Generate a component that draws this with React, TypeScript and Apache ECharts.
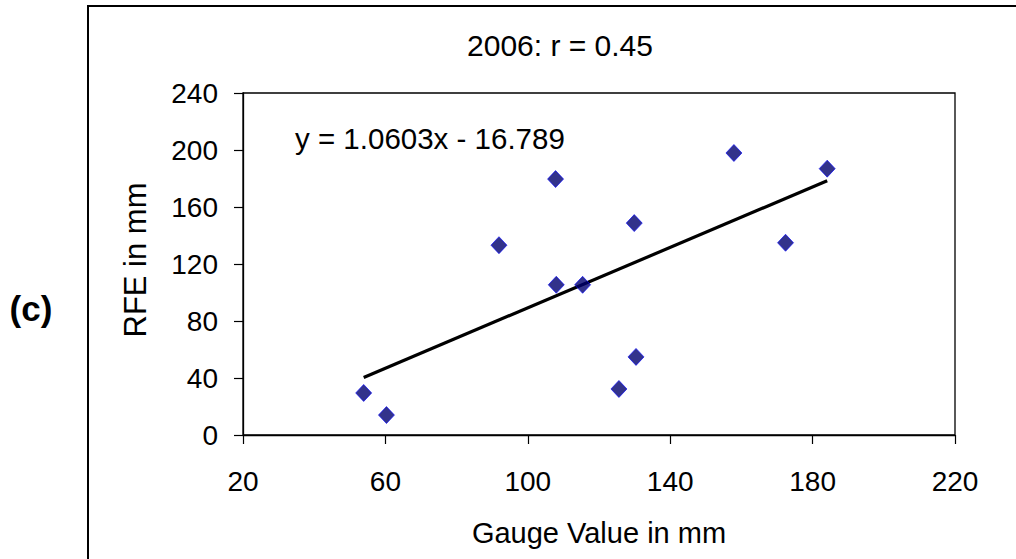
import React, { useEffect, useRef } from "react";
import * as echarts from "echarts";

const gaugeValues = [53.9, 60.3, 91.9, 107.8, 108.0, 115.4, 129.9, 125.6, 130.4, 157.9, 172.4, 184.1];
const rfeValues = [29.5, 14.0, 133.2, 179.6, 105.4, 105.4, 148.7, 32.3, 54.8, 197.9, 134.9, 186.9];
const trendX = [53.9, 184.1];
const trendY = [40.4, 178.4];
const xTicks = [20, 60, 100, 140, 180, 220];
const yTicks = [0, 40, 80, 120, 160, 200, 240];
const titleText = "2006: r = 0.45";
const equationText = "y = 1.0603x - 16.789";
const xName = "Gauge Value in mm";
const yName = "RFE in mm";
const panelLabel = "(c)";

const FONT = "'Liberation Sans', Arial, sans-serif";

export default function App() {
  const ref = useRef<HTMLDivElement>(null);
  useEffect(() => {
    if (!ref.current) return;
    const chart = echarts.init(ref.current, undefined, { renderer: "svg" });
    const points = gaugeValues.map((x, i) => [x, rfeValues[i]]);
    const trend = trendX.map((x, i) => [x, trendY[i]]);
    chart.setOption({
      animation: false,
      backgroundColor: "#ffffff",
      grid: {
        left: 243,
        right: 61,
        top: 93,
        bottom: 124,
        show: true,
        borderColor: "#000",
        borderWidth: 1.3,
        containLabel: false,
      },
      xAxis: {
        type: "value",
        min: xTicks[0],
        max: xTicks[xTicks.length - 1],
        interval: 40,
        axisLine: { show: true, onZero: false, lineStyle: { color: "#000", width: 1.3 } },
        axisTick: { show: true, inside: false, length: 9, lineStyle: { color: "#000", width: 1.2 } },
        axisLabel: { color: "#000", fontSize: 28, fontFamily: FONT, margin: 32 },
        splitLine: { show: false },
      },
      yAxis: {
        type: "value",
        min: yTicks[0],
        max: yTicks[yTicks.length - 1],
        interval: 40,
        axisLine: { show: true, onZero: false, lineStyle: { color: "#000", width: 1.3 } },
        axisTick: { show: true, inside: false, length: 9, lineStyle: { color: "#000", width: 1.2 } },
        axisLabel: { color: "#000", fontSize: 28, fontFamily: FONT, margin: 25 },
        splitLine: { show: false },
      },
      graphic: [
        {
          type: "rect",
          shape: { x: 88, y: 6, width: 1000, height: 600 },
          style: { fill: "none", stroke: "#000", lineWidth: 2 },
          silent: true,
        },
        {
          type: "text",
          x: 560,
          y: 45,
          style: { text: titleText, fill: "#000", font: `30px ${FONT}`, align: "center", verticalAlign: "middle" },
        },
        {
          type: "text",
          x: 295,
          y: 138,
          style: { text: equationText, fill: "#000", font: `29.5px ${FONT}`, align: "left", verticalAlign: "middle" },
        },
        {
          type: "text",
          x: 599,
          y: 533,
          style: { text: xName, fill: "#000", font: `29px ${FONT}`, align: "center", verticalAlign: "middle" },
        },
        {
          type: "text",
          x: 135,
          y: 260,
          rotation: Math.PI / 2,
          style: { text: yName, fill: "#000", font: `31px ${FONT}`, align: "center", verticalAlign: "middle" },
        },
        {
          type: "text",
          x: 31,
          y: 308,
          style: { text: panelLabel, fill: "#000", font: `bold 35px ${FONT}`, align: "center", verticalAlign: "middle" },
        },
      ],
      series: [
        {
          type: "line",
          data: trend,
          showSymbol: false,
          symbol: "none",
          lineStyle: { color: "#000", width: 3.2 },
          z: 2,
        },
        {
          type: "scatter",
          data: points,
          symbol: "diamond",
          symbolSize: [16, 17],
          itemStyle: { color: "#00006e", borderColor: "#0000ff", borderWidth: 0.8 },
          z: 3,
        },
      ],
    });
    return () => chart.dispose();
  }, []);
  return (
    <div
      ref={ref}
      style={{ position: "fixed", left: 0, top: 0, width: 1016, height: 559 }}
    />
  );
}
